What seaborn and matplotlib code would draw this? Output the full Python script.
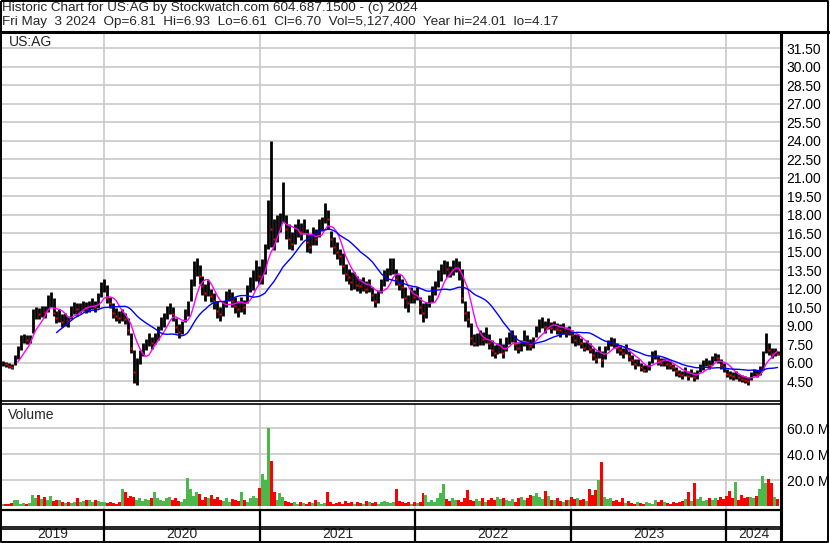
import matplotlib

matplotlib.use("Agg")
import matplotlib.pyplot as plt
import numpy as np
import pandas as pd
import seaborn as sns

# Weekly bars (US:AG, May 2019 - May 2024)
close = [
    5.95, 5.85, 5.75, 5.60, 6.30, 6.80, 7.90, 8.10, 7.80, 7.90,
    9.80, 10.20, 9.90, 10.30, 10.10, 10.90, 11.30, 10.00, 9.60, 9.90,
    9.30, 9.60, 9.40, 10.10, 10.50, 10.30, 10.50, 10.70, 10.40, 10.60,
    10.80, 10.50, 11.00, 12.00, 12.40, 11.20, 10.80, 10.00, 9.80, 9.60,
    9.90, 9.50, 8.60, 7.20, 5.20, 5.60, 6.60, 7.00, 7.40, 7.80,
    7.60, 8.00, 8.60, 9.20, 9.60, 10.20, 10.40, 9.90, 8.90, 8.50,
    8.80, 9.90, 10.50, 12.00, 13.60, 13.90, 13.00, 12.20, 11.60, 12.00,
    11.40, 11.00, 10.20, 9.90, 10.40, 11.20, 11.60, 11.00, 10.60, 10.30,
    10.80, 10.50, 11.80, 12.40, 12.80, 13.50, 13.00, 13.80, 14.80, 17.80,
    16.80, 16.00, 17.20, 17.60, 19.00, 16.80, 16.00, 15.60, 16.40, 17.00,
    16.60, 17.20, 15.80, 15.40, 16.30, 16.00, 17.00, 17.40, 18.20, 17.60,
    16.00, 15.40, 15.00, 14.60, 13.80, 13.20, 12.90, 12.50, 12.70, 12.30,
    12.20, 12.40, 12.00, 12.30, 11.50, 11.00, 11.30, 12.20, 12.90, 13.20,
    13.80, 14.00, 12.80, 12.40, 12.10, 11.20, 10.80, 11.50, 11.30, 11.70,
    10.50, 10.00, 10.20, 11.00, 11.60, 12.00, 12.80, 13.40, 13.80, 13.60,
    13.20, 13.90, 14.00, 13.50, 11.20, 10.00, 9.50, 8.00, 7.60, 7.80,
    8.00, 7.90, 8.20, 7.60, 7.00, 6.80, 7.20, 7.40, 6.80, 7.60,
    8.00, 8.20, 7.50, 7.20, 7.40, 7.90, 7.60, 7.30, 7.80, 8.60,
    9.00, 9.30, 8.90, 9.20, 8.80, 9.10, 8.70, 8.60, 8.80, 8.40,
    8.70, 8.20, 7.80, 7.90, 7.60, 7.20, 7.40, 7.10, 6.60, 6.30,
    6.90, 6.20, 7.00, 7.40, 7.80, 7.60, 7.20, 7.00, 6.80, 7.10,
    6.50, 6.20, 5.90, 6.00, 5.60, 5.40, 5.50, 5.70, 6.50, 6.70,
    6.20, 6.00, 6.10, 5.90, 5.80, 5.60, 5.30, 5.10, 5.00, 5.20,
    4.90, 5.20, 4.80, 5.00, 5.60, 5.80, 6.00, 5.80, 6.10, 6.50,
    6.40, 5.80, 5.60, 5.10, 5.00, 4.90, 5.00, 4.80, 4.70, 4.60,
    4.50, 5.00, 5.20, 5.10, 5.40, 6.40, 7.90, 7.00, 6.70, 6.90, 6.70,
]
high = [
    6.10, 6.05, 5.95, 5.85, 6.60, 7.30, 8.20, 8.30, 8.20, 8.20,
    10.30, 10.50, 10.40, 10.60, 10.60, 11.50, 11.70, 11.20, 10.20, 10.30,
    9.90, 10.00, 9.80, 10.60, 10.90, 10.80, 10.80, 11.00, 10.90, 11.00,
    11.20, 11.00, 11.60, 12.50, 12.80, 12.30, 11.30, 10.80, 10.40, 10.20,
    10.30, 10.00, 9.60, 8.40, 7.00, 6.40, 7.00, 7.60, 7.90, 8.40,
    8.10, 8.40, 9.00, 9.70, 10.00, 10.60, 10.80, 10.50, 9.60, 9.10,
    9.40, 10.30, 11.00, 12.80, 14.20, 14.50, 13.90, 13.00, 12.40, 12.70,
    12.00, 11.60, 11.00, 10.50, 11.00, 11.80, 12.00, 11.70, 11.30, 11.00,
    11.30, 11.10, 12.30, 12.90, 13.50, 14.30, 13.80, 14.40, 15.60, 19.20,
    24.00, 17.60, 18.00, 18.10, 20.60, 18.00, 17.20, 16.60, 17.20, 17.60,
    17.30, 17.60, 16.80, 16.40, 17.00, 16.80, 17.60, 17.80, 18.90, 18.40,
    16.70, 16.20, 15.80, 15.20, 14.90, 14.00, 13.60, 13.30, 13.30, 13.00,
    12.80, 12.90, 12.60, 12.80, 12.10, 11.60, 11.90, 12.80, 13.50, 13.70,
    14.50, 14.50, 13.60, 13.20, 12.80, 12.10, 11.50, 12.10, 11.90, 12.10,
    11.30, 10.80, 10.90, 11.50, 12.20, 12.60, 13.50, 14.00, 14.30, 14.20,
    13.80, 14.30, 14.50, 14.20, 13.60, 11.00, 10.20, 9.20, 8.30, 8.40,
    8.60, 8.50, 8.90, 8.30, 7.80, 7.40, 7.60, 8.00, 7.50, 8.10,
    8.50, 8.60, 8.20, 7.70, 7.80, 8.60, 8.20, 7.90, 8.10, 9.00,
    9.50, 9.70, 9.40, 9.60, 9.30, 9.40, 9.20, 9.10, 9.20, 8.90,
    9.00, 8.60, 8.30, 8.30, 8.00, 7.70, 7.80, 7.60, 7.20, 6.90,
    7.30, 6.90, 7.30, 7.80, 8.10, 8.00, 7.60, 7.40, 7.20, 7.50,
    6.90, 6.60, 6.30, 6.30, 6.00, 5.80, 5.80, 6.10, 6.90, 7.00,
    6.50, 6.40, 6.40, 6.20, 6.10, 5.90, 5.60, 5.40, 5.30, 5.60,
    5.30, 5.50, 5.20, 5.40, 5.90, 6.20, 6.40, 6.20, 6.50, 6.80,
    6.70, 6.30, 6.00, 5.50, 5.30, 5.20, 5.30, 5.10, 5.00, 4.90,
    4.80, 5.20, 5.50, 5.40, 5.70, 6.90, 8.40, 7.60, 7.20, 7.20, 6.93,
]
low = [
    5.70, 5.65, 5.55, 5.45, 5.80, 6.30, 7.00, 7.60, 7.50, 7.60,
    8.40, 9.50, 9.50, 9.70, 9.60, 10.10, 10.50, 9.80, 9.20, 9.30,
    8.90, 9.00, 8.90, 9.50, 9.90, 9.80, 10.00, 10.20, 10.00, 10.10,
    10.30, 10.10, 10.40, 11.30, 11.70, 10.80, 10.40, 9.60, 9.40, 9.20,
    9.40, 9.10, 8.20, 6.80, 4.30, 4.20, 5.90, 6.50, 7.00, 7.30,
    7.10, 7.50, 7.80, 8.60, 8.90, 9.50, 9.90, 9.40, 8.40, 8.00,
    8.30, 9.30, 9.80, 11.00, 12.20, 13.00, 12.40, 11.50, 11.00, 11.40,
    10.90, 10.30, 9.60, 9.40, 9.80, 10.50, 11.00, 10.50, 10.00, 9.70,
    10.10, 9.90, 10.80, 11.70, 11.90, 12.60, 12.40, 12.40, 13.20, 15.20,
    15.40, 15.10, 15.80, 16.60, 17.40, 16.00, 15.20, 15.10, 15.60, 16.20,
    15.90, 16.40, 15.00, 14.90, 15.50, 15.50, 16.20, 16.70, 17.30, 16.80,
    15.40, 14.80, 14.40, 13.90, 13.20, 12.60, 12.40, 11.90, 12.00, 11.80,
    11.60, 11.80, 11.60, 11.70, 11.00, 10.50, 10.80, 11.60, 12.20, 12.60,
    13.10, 13.20, 12.30, 11.90, 11.20, 10.40, 10.10, 10.80, 10.80, 11.10,
    9.90, 9.30, 9.60, 10.50, 10.90, 11.50, 12.10, 12.60, 13.20, 12.90,
    12.90, 13.10, 13.30, 12.70, 10.80, 9.40, 8.90, 7.40, 7.30, 7.30,
    7.40, 7.40, 7.60, 7.10, 6.50, 6.40, 6.70, 6.80, 6.40, 6.90,
    7.50, 7.70, 7.00, 6.80, 6.90, 7.30, 7.00, 7.00, 7.20, 8.10,
    8.50, 8.80, 8.40, 8.70, 8.40, 8.60, 8.30, 8.10, 8.30, 8.10,
    8.20, 7.60, 7.30, 7.40, 7.20, 6.90, 7.00, 6.80, 6.20, 6.00,
    6.40, 5.60, 6.30, 7.00, 7.30, 7.20, 6.80, 6.60, 6.40, 6.70,
    6.10, 5.80, 5.50, 5.70, 5.30, 5.20, 5.20, 5.40, 6.00, 6.30,
    5.80, 5.70, 5.70, 5.50, 5.50, 5.30, 4.90, 4.80, 4.70, 4.90,
    4.60, 4.80, 4.50, 4.70, 5.20, 5.40, 5.70, 5.50, 5.80, 6.10,
    6.00, 5.50, 5.20, 4.80, 4.70, 4.60, 4.70, 4.50, 4.40, 4.30,
    4.17, 4.60, 4.90, 4.80, 5.00, 5.40, 6.80, 6.60, 6.40, 6.50, 6.61,
]
# volume in millions of shares
volume = [
    1.5, 2.0, 1.5, 2.5, 5.0, 4.5, 2.0, 2.5, 2.0, 2.5,
    9.0, 6.5, 8.5, 5.5, 7.0, 4.5, 8.0, 4.0, 5.0, 4.5,
    3.0, 2.5, 3.5, 2.5, 3.0, 6.0, 3.0, 4.0, 4.5, 5.0,
    3.5, 4.5, 4.0, 3.0, 3.5, 2.5, 3.0, 2.5, 2.0, 3.0,
    13.0, 11.0, 6.0, 8.0, 7.5, 5.0, 6.5, 4.0, 5.5, 4.5,
    6.0, 11.0, 6.5, 5.0, 4.0, 6.0, 7.0, 5.0, 6.5, 4.0,
    3.5, 5.5, 22.0, 13.0, 8.0, 11.0, 9.5, 5.0, 7.5, 6.0,
    8.5, 5.5, 7.0, 4.5, 4.0, 6.0, 3.5, 5.5, 5.0, 4.0,
    11.0, 5.0, 3.5, 6.5, 8.0, 6.5, 14.0, 25.0, 20.0, 60.0,
    35.0, 11.0, 5.0, 10.0, 7.0, 4.0, 3.0, 2.5, 3.5, 2.0,
    3.0, 2.5, 2.0, 3.5, 2.5, 4.5, 3.0, 2.0, 2.5, 11.0,
    3.5, 2.0, 2.5, 3.0, 2.0, 4.0, 2.5, 3.0, 2.0, 3.5,
    2.5, 2.0, 4.0, 3.0, 2.5, 3.5, 2.0, 3.0, 4.0, 3.0,
    2.5, 3.0, 13.0, 4.0, 3.0, 2.5, 3.5, 2.0, 3.0, 2.5,
    3.5, 10.0, 8.5, 3.0, 5.0, 3.5, 6.0, 10.0, 17.0, 5.5,
    4.0, 6.0, 4.5, 5.0, 3.5, 6.5, 12.5, 5.0, 4.0, 5.5,
    4.0, 6.0, 3.5, 5.0, 6.5, 4.5, 7.0, 5.5, 6.0, 4.5,
    4.0, 5.5, 3.5, 6.0, 7.0, 5.0, 6.5, 9.0, 8.0, 10.0,
    7.0, 5.5, 12.0, 8.0, 4.5, 5.0, 6.0, 4.0, 3.5, 5.0,
    4.5, 7.0, 5.5, 6.0, 4.5, 5.5, 4.0, 13.0, 8.5, 12.5,
    20.0, 34.0, 7.0, 5.5, 6.5, 4.0, 5.0, 3.0, 6.0, 2.5,
    4.0, 2.5, 2.0, 3.0, 2.5, 2.0, 3.5, 2.5, 2.0, 4.5,
    3.0, 5.0, 3.5, 2.5, 2.0, 3.5, 2.5, 3.0, 4.0, 5.5,
    11.0, 4.0, 18.0, 5.5, 7.0, 4.0, 5.0, 6.5, 4.5, 6.0,
    5.0, 7.0, 5.5, 8.0, 12.0, 6.0, 19.0, 5.0, 9.0, 6.5,
    7.0, 7.5, 6.0, 8.0, 13.0, 23.0, 18.0, 21.0, 18.0, 7.0, 5.5,
]
years = [2019, 2020, 2021, 2022, 2023, 2024]
price_ticks = np.arange(4.5, 31.6, 1.5)
volume_ticks = [20, 40, 60]

title1 = "Historic Chart for US:AG by Stockwatch.com 604.687.1500 - (c) 2024"
title2 = ("Fri May  3 2024  Op=6.81  Hi=6.93  Lo=6.61  Cl=6.70  "
          "Vol=5,127,400  Year hi=24.01  lo=4.17")

df = pd.DataFrame({
    "date": pd.date_range("2019-05-08", periods=len(close), freq="W-WED"),
    "high": high,
    "low": low,
    "close": close,
    "volume": volume,
})
df["ma_short"] = df["close"].rolling(6).mean()
df["ma_long"] = df["close"].rolling(19).mean()
df["up"] = df["close"].diff().fillna(0) >= 0

sns.set_style("white")
plt.rcParams["font.family"] = ["Liberation Sans", "DejaVu Sans"]
FS = 10

W, H = 830, 543
fig = plt.figure(figsize=(W / 100, H / 100), dpi=100)


def box(x0, y0, x1, y1):
    # pixel box (top-left origin) -> figure fraction
    return [x0 / W, 1 - y1 / H, (x1 - x0) / W, (y1 - y0) / H]


x_start, x_end = pd.Timestamp("2019-05-06"), pd.Timestamp("2024-05-09")
year_starts = [pd.Timestamp(f"{y}-01-01") for y in years[1:]]
grid_color = "#c8c8c8"

# price panel
ax = fig.add_axes(box(2, 33, 781, 401))
ax.vlines(df["date"], df["low"], df["high"], color="black", lw=2.0, zorder=3)
down = df[~df["up"]]
ax.plot(down["date"], down["close"], ls="none", marker="s", ms=1.7,
        color="red", mec="none", zorder=4)
sns.lineplot(data=df, x="date", y="ma_short", color="#ff00ff", lw=1, ax=ax, zorder=5)
sns.lineplot(data=df, x="date", y="ma_long", color="#0000ff", lw=1, ax=ax, zorder=5)
ax.set_xlim(x_start, x_end)
ax.set_ylim(2.88, 32.72)
ax.set_yticks(price_ticks)
ax.yaxis.set_major_formatter("{x:.2f}")
ax.yaxis.tick_right()
ax.set_xticks(year_starts)
ax.tick_params(axis="x", length=0, labelbottom=False)
ax.tick_params(axis="y", length=0, pad=4, labelsize=FS, colors="black")
ax.grid(True, color=grid_color, lw=1.2)
ax.set_xlabel("")
ax.set_ylabel("")
for s in ax.spines.values():
    s.set_visible(False)
ax.text(9, H - 42, "US:AG", transform=None, fontsize=FS, va="center")

# volume panel
axv = fig.add_axes(box(2, 404, 781, 510))
colors = np.where(df["up"], "#4cb84c", "#ff0000")
axv.bar(df["date"], df["volume"], width=7, color=colors, lw=0, zorder=3)
axv.set_xlim(x_start, x_end)
axv.set_ylim(-2.85, 78.7)
axv.set_yticks(volume_ticks)
axv.yaxis.set_major_formatter("{x:.1f} M")
axv.yaxis.tick_right()
axv.set_xticks(year_starts)
axv.tick_params(axis="x", length=0, labelbottom=False)
axv.tick_params(axis="y", length=0, pad=4, labelsize=FS, colors="black")
axv.grid(True, color=grid_color, lw=1.2)
for s in axv.spines.values():
    s.set_visible(False)
axv.text(0.008, 0.9, "Volume", transform=axv.transAxes, fontsize=FS, va="center")

# date strip
axd = fig.add_axes(box(2, 510, 781, 541))
axd.set_xlim(x_start, x_end)
axd.set_ylim(0, 1)
axd.axis("off")
axd.vlines(year_starts, 0, 1, color="black", lw=1.6)
edges = [x_start] + year_starts + [x_end]
for y, a, b in zip(years, edges[:-1], edges[1:]):
    axd.text(a + (b - a) / 2, 0.22, str(y), ha="center", va="center", fontsize=FS)

# frame lines in pixel space
ov = fig.add_axes([0, 0, 1, 1])
ov.set_xlim(0, W)
ov.set_ylim(H, 0)
ov.axis("off")
k = dict(color="black", solid_capstyle="butt")
ov.plot([1, 828, 828, 1, 1], [1, 1, 541.5, 541.5, 1], lw=1.4, **k)
ov.plot([0, 830], [32, 32], lw=2.2, **k)
ov.plot([781, 781], [32, 543], lw=2.2, **k)
ov.plot([0, 781], [400.5, 400.5], lw=1.2, **k)
ov.plot([0, 781], [403.5, 403.5], lw=1.2, **k)
ov.plot([0, 781], [510, 510], lw=1.6, **k)
ov.plot([0, 781], [526.5, 526.5], lw=1.2, **k)
ov.plot([0, 781], [529, 529], lw=1.2, **k)

fig.text(2 / W, 1 - 2 / H, title1, ha="left", va="top", fontsize=9.7)
fig.text(2 / W, 1 - 16 / H, title2, ha="left", va="top", fontsize=9.7)

fig.savefig("out.png", dpi=100)
